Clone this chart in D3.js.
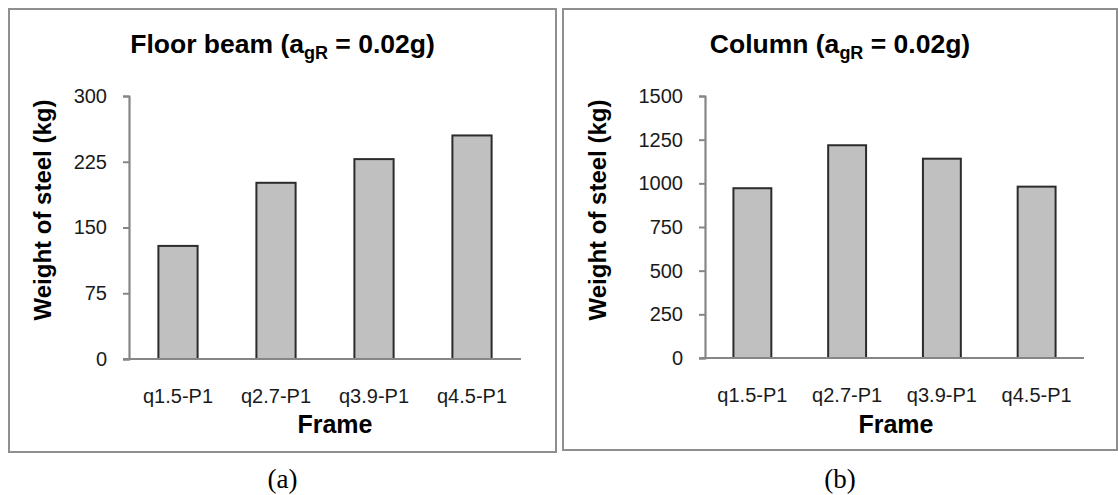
<!DOCTYPE html>
<html>
<head>
<meta charset="utf-8">
<script src="https://cdn.jsdelivr.net/npm/d3@7"></script>
<style>
  html, body { margin: 0; padding: 0; background: #fff; }
  svg { display: block; }
</style>
</head>
<body>
<svg id="fig" width="1118" height="495"></svg>
<script>
// Frame designations shared by both panels
const frames = ["q1.5-P1", "q2.7-P1", "q3.9-P1", "q4.5-P1"];

// Weight of steel (kg), floor beams
const beamWeights = [129, 201, 228, 255];
const beamTicks = [0, 75, 150, 225, 300];

// Weight of steel (kg), columns
const columnWeights = [972, 1218, 1141, 981];
const columnTicks = [0, 250, 500, 750, 1000, 1250, 1500];

const SANS = "Arial, 'Liberation Sans', sans-serif";
const SERIF = "'Times New Roman', 'Liberation Serif', serif";

const svg = d3.select("#fig");

function drawPanel(opt) {
  const g = svg.append("g");

  // chart-area border
  g.append("rect")
    .attr("x", opt.box[0]).attr("y", opt.box[1])
    .attr("width", opt.box[2]).attr("height", opt.box[3])
    .attr("fill", "#fff").attr("stroke", "#8f8f8f").attr("stroke-width", 2);

  const x = d3.scaleBand()
    .domain(frames)
    .range([opt.plot.left, opt.plot.right])
    .paddingInner(0.6).paddingOuter(0.3);

  const y = d3.scaleLinear()
    .domain([0, d3.max(opt.ticks)])
    .range([opt.plot.bottom, opt.plot.top]);

  // bars
  g.selectAll("rect.bar")
    .data(opt.values)
    .join("rect")
    .attr("class", "bar")
    .attr("x", (d, i) => x(frames[i]))
    .attr("y", d => y(d))
    .attr("width", x.bandwidth())
    .attr("height", d => y(0) - y(d))
    .attr("fill", "#c0c0c0")
    .attr("stroke", "#2b2b2b")
    .attr("stroke-width", 2);

  // value axis
  const yAxis = g.append("g")
    .attr("transform", `translate(${opt.plot.left},0)`)
    .call(d3.axisLeft(y).tickValues(opt.ticks).tickSize(6).tickPadding(16).tickFormat(d3.format("d")));
  yAxis.select(".domain").attr("stroke", "#868686").attr("stroke-width", 2.2);
  yAxis.selectAll(".tick line").attr("stroke", "#868686").attr("stroke-width", 2);
  yAxis.selectAll(".tick text")
    .style("font-family", SANS).style("font-size", "20px").attr("fill", "#1a1a1a");

  // category axis
  const xAxis = g.append("g")
    .attr("transform", `translate(0,${opt.plot.bottom})`)
    .call(d3.axisBottom(x).tickSize(0).tickPadding(30));
  xAxis.select(".domain").attr("stroke", "#868686").attr("stroke-width", 2.2)
    .attr("d", `M${opt.plot.left - 6},0H${opt.plot.right}`);
  xAxis.selectAll(".tick text")
    .style("font-family", SANS).style("font-size", "20px").attr("fill", "#1a1a1a");

  // title with subscript
  const cx = opt.box[0] + opt.box[2] / 2;
  const t = g.append("text")
    .attr("x", cx).attr("y", 53)
    .attr("text-anchor", "middle")
    .style("font-family", SANS).style("font-size", "26.5px").style("font-weight", "bold")
    .attr("fill", "#000");
  t.append("tspan").text(opt.title + " (a");
  t.append("tspan").style("font-size", "18px").attr("dy", 6).text("gR");
  t.append("tspan").attr("dy", -6).text(" = 0.02g)");

  // axis titles
  g.append("text")
    .attr("x", opt.frameX).attr("y", 433)
    .attr("text-anchor", "middle")
    .style("font-family", SANS).style("font-size", "25px").style("font-weight", "bold")
    .attr("fill", "#000")
    .text("Frame");

  g.append("text")
    .attr("transform", `translate(${opt.ylabelX},${opt.ylabelY}) rotate(-90)`)
    .attr("text-anchor", "middle")
    .style("font-family", SANS).style("font-size", "24px").style("font-weight", "bold")
    .attr("fill", "#000")
    .text("Weight of steel (kg)");

  // panel caption
  svg.append("text")
    .attr("x", cx).attr("y", 488)
    .attr("text-anchor", "middle")
    .style("font-family", SERIF).style("font-size", "27px")
    .attr("fill", "#000")
    .text(opt.caption);
}

drawPanel({
  box: [9, 9, 547, 443],
  plot: { left: 129, right: 521, top: 96, bottom: 359 },
  values: beamWeights,
  ticks: beamTicks,
  title: "Floor beam",
  frameX: 335,
  ylabelX: 51, ylabelY: 210,
  caption: "(a)"
});

drawPanel({
  box: [563, 9, 554, 441],
  plot: { left: 705, right: 1084, top: 96, bottom: 358 },
  values: columnWeights,
  ticks: columnTicks,
  title: "Column",
  frameX: 896,
  ylabelX: 606, ylabelY: 210,
  caption: "(b)"
});
</script>
</body>
</html>
